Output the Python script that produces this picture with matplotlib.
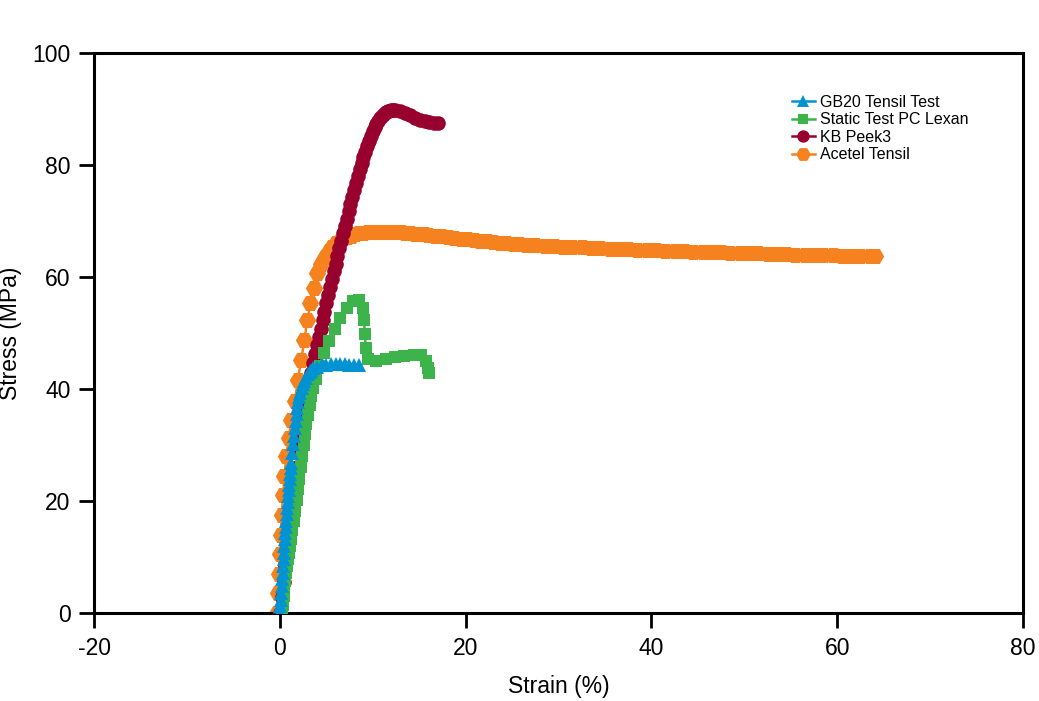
"""Stress-strain curves for four tensile tests, redrawn as out.png."""
import matplotlib

matplotlib.use("Agg")
import matplotlib.pyplot as plt

plt.rcParams["font.family"] = ["Liberation Sans", "DejaVu Sans"]
plt.rcParams["axes.unicode_minus"] = False

# --- data (strain in %, stress in MPa) ---
gb20_strain = [0.0, 0.05, 0.1, 0.15, 0.2, 0.25, 0.3, 0.35, 0.4, 0.45, 0.5, 0.55, 0.6,
               0.65, 0.7, 0.75, 0.8, 0.85, 0.9, 0.95, 1.0, 1.05, 1.1, 1.15, 1.2,
               1.3, 1.4, 1.5, 1.6, 1.7, 1.8, 1.9, 2.0, 2.1, 2.2,
               2.35, 2.5, 2.65, 2.8, 3.0, 3.2, 3.4, 3.6,
               4.0, 4.5, 5.0, 5.5, 6.0, 6.5, 7.0, 7.5, 8.0, 8.5]
gb20_stress = [0.0, 1.2, 2.4, 3.6, 4.8, 6.0, 7.2, 8.4, 9.6, 10.8, 12.0, 13.2, 14.3,
               15.4, 16.5, 17.6, 18.7, 19.8, 20.9, 21.9, 22.9, 23.9, 24.9, 25.9, 26.8,
               28.5, 30.1, 31.6, 33.0, 34.3, 35.5, 36.6, 37.6, 38.5, 39.3,
               40.2, 40.9, 41.5, 42.0, 42.6, 43.0, 43.4, 43.7,
               44.0, 44.2, 44.35, 44.4, 44.4, 44.4, 44.4, 44.35, 44.3, 44.25]

lexan_strain = [0.2, 0.3, 0.4, 0.5, 0.6, 0.7, 0.8, 0.9, 1.0, 1.1, 1.2,
                1.35, 1.5, 1.65, 1.8, 1.95, 2.1, 2.25, 2.4, 2.55, 2.7, 2.85, 3.0,
                3.2, 3.4, 3.6, 3.85, 4.3, 4.8, 5.3, 5.9, 6.5, 7.2, 7.9, 8.5, 8.9,
                9.05, 9.15, 9.25, 9.45, 10.4, 11.4, 12.4, 13.4, 14.4, 15.2,
                15.7, 16.0, 16.1]
lexan_stress = [0.0, 1.5, 3.0, 4.5, 5.8, 7.1, 8.4, 9.6, 10.8, 12.0, 13.2,
                14.8, 16.5, 18.3, 20.2, 22.1, 24.0, 26.0, 28.0, 30.0, 31.9, 33.7, 35.4,
                37.2, 38.8, 40.2, 41.7, 44.1, 46.4, 48.6, 50.8, 52.7, 54.5, 55.7, 55.9, 54.5,
                52.3, 49.8, 47.3, 45.3, 45.0, 45.4, 45.7, 45.9, 46.1, 46.0,
                45.0, 43.8, 42.8]

peek_strain = [0.0, 0.2, 0.4, 0.6, 0.8, 1.0, 1.2, 1.4, 1.6, 1.8, 2.0, 2.2, 2.4, 2.6,
               2.8, 3.0, 3.2, 3.4, 3.6, 3.8, 4.0, 4.2, 4.4, 4.6, 4.8, 5.0, 5.2, 5.4,
               5.6, 5.8, 6.0, 6.2, 6.4, 6.6, 6.8, 7.0, 7.2, 7.4, 7.6, 7.8, 8.0, 8.2,
               8.4, 8.6, 8.8, 9.0, 9.2, 9.4, 9.6, 9.8, 10.0, 10.2, 10.4, 10.6, 10.8,
               11.0, 11.2, 11.4, 11.6, 11.8, 12.0, 12.2, 12.4,
               12.9, 13.5, 14.0, 14.5, 15.1, 15.6, 16.1, 16.6, 17.0]
peek_stress = [0.0, 2.8, 5.6, 8.5, 11.5, 14.6, 17.6, 20.5, 23.3, 26.0, 28.6, 31.0,
               33.3, 35.5, 37.5, 39.4, 41.2, 42.9, 44.6, 46.2, 47.8, 49.3, 50.8, 52.3,
               53.8, 55.3, 56.8, 58.2, 59.6, 61.0, 62.4, 63.8, 65.2, 66.5, 67.8, 69.1,
               70.4, 71.7, 73.0, 74.3, 75.6, 76.8, 78.0, 79.2, 80.3, 81.4, 82.4, 83.4,
               84.3, 85.2, 86.0, 86.7, 87.3, 87.9, 88.4, 88.8, 89.1, 89.4, 89.6, 89.7,
               89.8, 89.8, 89.8,
               89.7, 89.3, 88.9, 88.4, 88.0, 87.8, 87.6, 87.5, 87.5]

acetel_strain = [-0.3, -0.2, -0.1, 0.0, 0.1, 0.2,
                 0.35, 0.5, 0.7, 0.95, 1.25, 1.6, 1.95, 2.3, 2.65, 2.95, 3.3, 3.65,
                 4.05, 4.45, 4.85, 5.25, 5.65, 6.05, 6.45, 6.85, 7.25, 7.65, 8.05,
                 8.5, 9.0, 9.5, 10.0, 10.5, 11.0, 11.5, 12.0, 12.5, 13.0, 13.5, 14.0,
                 14.5, 15.0, 15.5, 16.0,
                 16.7, 17.4, 18.1, 18.8, 19.5, 20.2, 20.9, 21.6, 22.3, 23.0, 23.7,
                 24.4, 25.1, 25.8, 26.5,
                 27.5, 28.5, 29.5, 30.5, 31.5, 32.5, 33.5, 34.5, 35.5, 36.5, 37.5,
                 38.5, 39.5, 40.5, 41.5, 42.5, 43.5, 44.5, 45.5, 46.5, 47.5, 48.5,
                 49.5, 50.5, 51.5, 52.5, 53.5, 54.5, 55.5, 56.5, 57.5, 58.5, 59.5,
                 60.5, 61.5, 62.5, 63.5, 64.1]
acetel_stress = [0.0, 3.5, 7.0, 10.5, 14.0, 17.5,
                 21.0, 24.5, 28.0, 31.3, 34.5, 37.8, 41.6, 45.2, 48.7, 52.3, 55.3, 58.0,
                 60.7, 62.3, 63.6, 64.6, 65.4, 66.0, 66.5, 66.9, 67.2, 67.4, 67.6,
                 67.8, 67.9, 68.0, 68.0, 68.05, 68.05, 68.05, 68.0, 68.0, 67.95, 67.9,
                 67.8, 67.75, 67.7, 67.6, 67.5,
                 67.4, 67.25, 67.1, 66.95, 66.8, 66.7, 66.55, 66.45, 66.35, 66.25,
                 66.15, 66.05, 65.95, 65.85, 65.8,
                 65.7, 65.6, 65.5, 65.4, 65.35, 65.3, 65.2, 65.15, 65.05, 65.0, 64.95,
                 64.9, 64.85, 64.75, 64.7, 64.65, 64.6, 64.55, 64.5, 64.45, 64.4, 64.35,
                 64.3, 64.25, 64.2, 64.15, 64.1, 64.05, 64.0, 63.95, 63.9, 63.9, 63.85,
                 63.8, 63.8, 63.75, 63.7, 63.7]

labels = ["GB20 Tensil Test", "Static Test PC Lexan", "KB Peek3", "Acetel Tensil"]
x_ticks = [-20, 0, 20, 40, 60, 80]
y_ticks = [0, 20, 40, 60, 80, 100]

# label, x, y, colour, marker, marker size (legend order; drawn back to front)
series = [
    (labels[0], gb20_strain, gb20_stress, "#0093d3", "^", 10.5),
    (labels[1], lexan_strain, lexan_stress, "#3cb44b", "s", 8.5),
    (labels[2], peek_strain, peek_stress, "#98002e", "o", 10.5),
    (labels[3], acetel_strain, acetel_stress, "#f5821f", "H", 12.5),
]

fig = plt.figure(figsize=(10.39, 7.01), dpi=100)
ax = fig.add_axes([0.0905, 0.1255, 0.8941, 0.7989])

handles = {}
for z, (label, xs, ys, color, marker, ms) in enumerate(reversed(series)):
    (line,) = ax.plot(xs, ys, color=color, lw=1.8, marker=marker, ms=ms,
                      mec=color, mew=0, label=label, zorder=2 + z)
    handles[label] = line

ax.set_xlim(-20, 80)
ax.set_ylim(0, 100)
ax.set_xticks(x_ticks, [str(t) for t in x_ticks])
ax.set_yticks(y_ticks, [str(t) for t in y_ticks])
ax.tick_params(direction="out", length=11, width=2, labelsize=16.5, pad=6)
for spine in ax.spines.values():
    spine.set_linewidth(2.2)

ax.set_xlabel("Strain (%)", fontsize=16.5, labelpad=11)
ax.set_ylabel("Stress (MPa)", fontsize=16.5, labelpad=7)

ax.legend([handles[l] for l in labels], labels, loc="upper left",
          bbox_to_anchor=(0.751, 0.925), frameon=False, fontsize=11.5,
          handlelength=1.45, handletextpad=0.35, labelspacing=0.15,
          borderpad=0, borderaxespad=0, markerscale=0.85)

fig.savefig("out.png", dpi=100)
